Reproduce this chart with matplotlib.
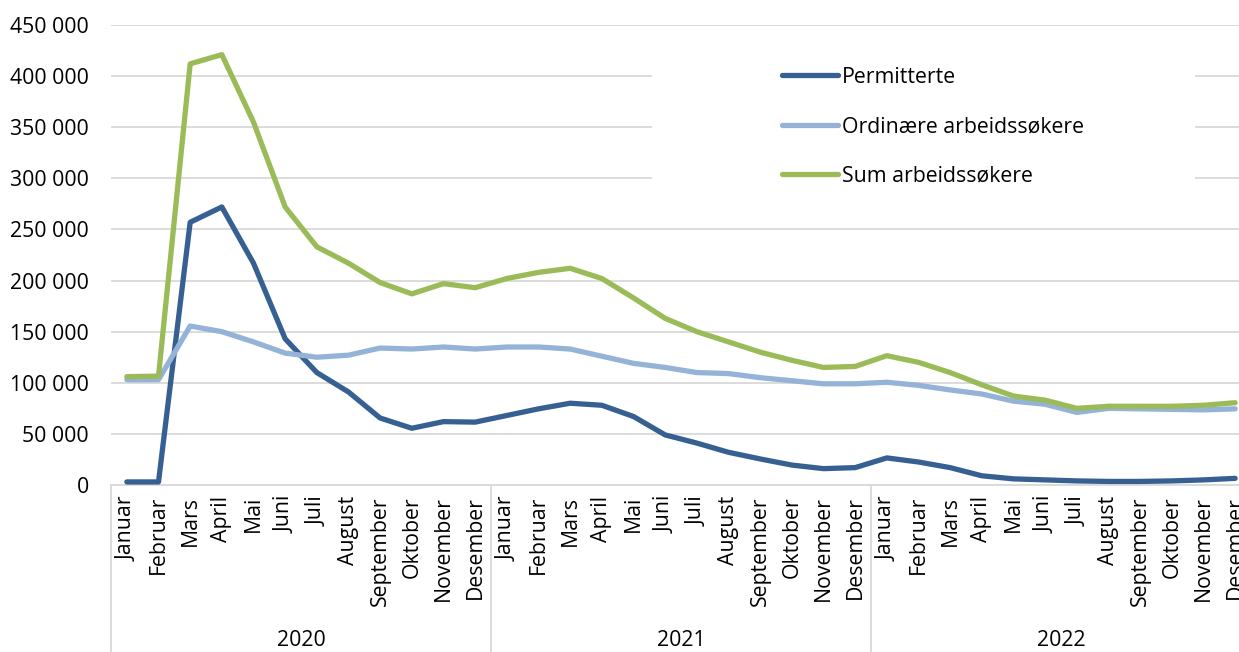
import matplotlib
matplotlib.use("Agg")
import matplotlib.pyplot as plt
from matplotlib.patches import Rectangle
from matplotlib.ticker import FuncFormatter
import matplotlib.transforms as mtransforms

plt.rcParams['font.family'] = ['Open Sans', 'DejaVu Sans']

months = ["Januar", "Februar", "Mars", "April", "Mai", "Juni", "Juli", "August",
          "September", "Oktober", "November", "Desember"]
years = ["2020", "2021", "2022"]

permitterte = [3000, 3000, 257000, 272000, 217000, 143000, 110000, 91000, 65500, 55500, 62000, 61500,
               68000, 74500, 80000, 78000, 67000, 49000, 41000, 32000, 25500, 19500, 16000, 17000,
               26500, 22500, 17000, 9000, 6000, 5000, 4000, 3500, 3500, 4000, 5000, 6500]
ordinaere = [103000, 103000, 155500, 150000, 140000, 129000, 125000, 127000, 134000, 133000, 135000, 133000,
             135000, 135000, 133000, 126000, 119000, 115000, 110000, 109000, 105000, 102000, 99000, 99000,
             100500, 97500, 93000, 89000, 82000, 79000, 71000, 75000, 74500, 74000, 73500, 74500]
sum_arbeid = [106000, 106500, 412000, 421000, 355000, 272000, 233000, 217000, 198000, 187000, 197000, 193000,
              202000, 208000, 212000, 202000, 183000, 163000, 150000, 140000, 130000, 122000, 115000, 116000,
              126500, 120000, 110000, 98000, 87000, 83000, 75000, 77000, 77000, 77000, 78000, 80500]

labels = ["Permitterte", "Ordinære arbeidssøkere", "Sum arbeidssøkere"]
colors = ["#376092", "#95B3D7", "#9BBB59"]

FS = 15.3

fig = plt.figure(figsize=(12.39, 6.52), dpi=100)
ax = fig.add_axes([111 / 1239, 167 / 652, 1140 / 1239, 460 / 652])

x = list(range(len(permitterte)))
for series, lab, col in zip([permitterte, ordinaere, sum_arbeid], labels, colors):
    ax.plot(x, series, color=col, lw=3.8, label=lab, solid_joinstyle='round',
            solid_capstyle='round', zorder=3)

ax.set_xlim(-0.5, 35.5)
ax.set_ylim(0, 450000)
ax.set_yticks(range(0, 450001, 50000))
ax.yaxis.set_major_formatter(FuncFormatter(lambda v, p: f"{v:,.0f}".replace(",", " ")))
ax.grid(axis='y', color='#D9D9D9', lw=1.3, zorder=0)
ax.set_axisbelow(True)

ax.set_xticks(x)
ax.set_xticklabels(months * 3, rotation=90, va='top')
ax.tick_params(axis='x', length=0, pad=8, labelsize=FS)
ax.tick_params(axis='y', length=0, pad=16, labelsize=FS)

for s in ['top', 'right', 'left']:
    ax.spines[s].set_visible(False)
ax.spines['bottom'].set_color('#D9D9D9')
ax.spines['bottom'].set_linewidth(1.3)

# year separators and labels
trans = mtransforms.blended_transform_factory(ax.transData, ax.transAxes)
for i in range(4):
    ax.plot([i * 12 - 0.5, i * 12 - 0.5], [0, -0.37], transform=trans, color='#D9D9D9',
            lw=1.3, clip_on=False)
for i, yr in enumerate(years):
    ax.text(i * 12 + 5.5, -0.337, yr, transform=trans, ha='center', va='center', fontsize=FS)

# white box behind the legend
ax.add_patch(Rectangle((0.4746, 0.6), 0.4764, 0.375, transform=ax.transAxes,
                       facecolor='white', edgecolor='none', zorder=1))

leg = ax.legend(loc='upper left', bbox_to_anchor=(771 / 1239, 1 - 56 / 652),
                bbox_transform=fig.transFigure, frameon=False, borderpad=0,
                handlelength=2.65, handletextpad=0.2, labelspacing=1.34, fontsize=FS)

fig.savefig("out.png", dpi=100)
